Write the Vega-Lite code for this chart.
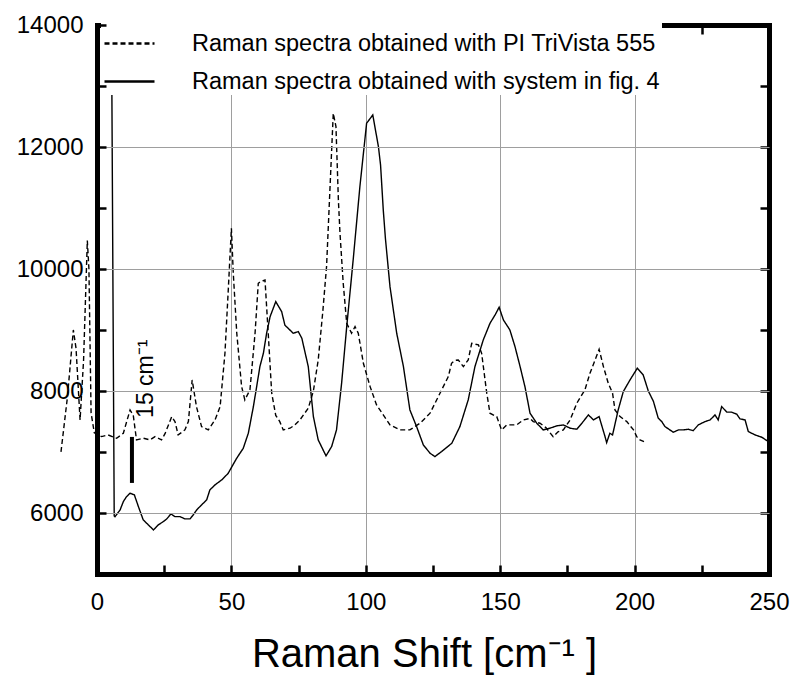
{
  "$schema": "https://vega.github.io/schema/vega-lite/v6.json",
  "width": 672,
  "height": 549,
  "autosize": {"type": "none"},
  "padding": {"left": 97, "top": 25, "right": 32, "bottom": 101},
  "background": "white",
  "config": {
    "view": {"stroke": null},
    "font": "Liberation Sans",
    "axis": {
      "domainColor": "black",
      "domainWidth": 5,
      "domainCap": "square",
      "tickColor": "black",
      "tickWidth": 2.5,
      "labelFont": "Liberation Sans",
      "labelFontSize": 24,
      "labelColor": "black",
      "gridColor": "#9e9e9e",
      "gridWidth": 1,
      "titleFont": "Liberation Sans",
      "titleColor": "black",
      "titleFontWeight": "normal"
    }
  },
  "datasets": {
    "spectra": [
      {"series": "Raman spectra obtained with PI TriVista 555", "x": -13.4, "y": 7001},
      {"series": "Raman spectra obtained with PI TriVista 555", "x": -11, "y": 7900},
      {"series": "Raman spectra obtained with PI TriVista 555", "x": -8.8, "y": 9001},
      {"series": "Raman spectra obtained with PI TriVista 555", "x": -7.8, "y": 8700},
      {"series": "Raman spectra obtained with PI TriVista 555", "x": -6.3, "y": 7526},
      {"series": "Raman spectra obtained with PI TriVista 555", "x": -5, "y": 8500},
      {"series": "Raman spectra obtained with PI TriVista 555", "x": -3.6, "y": 10465},
      {"series": "Raman spectra obtained with PI TriVista 555", "x": -3, "y": 10000},
      {"series": "Raman spectra obtained with PI TriVista 555", "x": -2.2, "y": 7640},
      {"series": "Raman spectra obtained with PI TriVista 555", "x": -1, "y": 7313},
      {"series": "Raman spectra obtained with PI TriVista 555", "x": 1.7, "y": 7252},
      {"series": "Raman spectra obtained with PI TriVista 555", "x": 4.1, "y": 7280},
      {"series": "Raman spectra obtained with PI TriVista 555", "x": 7.3, "y": 7226},
      {"series": "Raman spectra obtained with PI TriVista 555", "x": 9.8, "y": 7308},
      {"series": "Raman spectra obtained with PI TriVista 555", "x": 12.3, "y": 7690},
      {"series": "Raman spectra obtained with PI TriVista 555", "x": 13.5, "y": 7600},
      {"series": "Raman spectra obtained with PI TriVista 555", "x": 14.7, "y": 7198},
      {"series": "Raman spectra obtained with PI TriVista 555", "x": 17.2, "y": 7226},
      {"series": "Raman spectra obtained with PI TriVista 555", "x": 19.7, "y": 7198},
      {"series": "Raman spectra obtained with PI TriVista 555", "x": 21.6, "y": 7252},
      {"series": "Raman spectra obtained with PI TriVista 555", "x": 24, "y": 7198},
      {"series": "Raman spectra obtained with PI TriVista 555", "x": 25.3, "y": 7300},
      {"series": "Raman spectra obtained with PI TriVista 555", "x": 27.8, "y": 7580},
      {"series": "Raman spectra obtained with PI TriVista 555", "x": 29, "y": 7500},
      {"series": "Raman spectra obtained with PI TriVista 555", "x": 30.2, "y": 7280},
      {"series": "Raman spectra obtained with PI TriVista 555", "x": 32.7, "y": 7362},
      {"series": "Raman spectra obtained with PI TriVista 555", "x": 34, "y": 7500},
      {"series": "Raman spectra obtained with PI TriVista 555", "x": 35.4, "y": 8181},
      {"series": "Raman spectra obtained with PI TriVista 555", "x": 37, "y": 7744},
      {"series": "Raman spectra obtained with PI TriVista 555", "x": 38.9, "y": 7416},
      {"series": "Raman spectra obtained with PI TriVista 555", "x": 41.4, "y": 7362},
      {"series": "Raman spectra obtained with PI TriVista 555", "x": 43.9, "y": 7526},
      {"series": "Raman spectra obtained with PI TriVista 555", "x": 45.8, "y": 7744},
      {"series": "Raman spectra obtained with PI TriVista 555", "x": 47.6, "y": 8618},
      {"series": "Raman spectra obtained with PI TriVista 555", "x": 48.9, "y": 9711},
      {"series": "Raman spectra obtained with PI TriVista 555", "x": 50, "y": 10668},
      {"series": "Raman spectra obtained with PI TriVista 555", "x": 50.7, "y": 9930},
      {"series": "Raman spectra obtained with PI TriVista 555", "x": 52, "y": 8947},
      {"series": "Raman spectra obtained with PI TriVista 555", "x": 53.8, "y": 8072},
      {"series": "Raman spectra obtained with PI TriVista 555", "x": 55, "y": 7854},
      {"series": "Raman spectra obtained with PI TriVista 555", "x": 56.9, "y": 8018},
      {"series": "Raman spectra obtained with PI TriVista 555", "x": 58.8, "y": 8947},
      {"series": "Raman spectra obtained with PI TriVista 555", "x": 60, "y": 9766},
      {"series": "Raman spectra obtained with PI TriVista 555", "x": 61.2, "y": 9800},
      {"series": "Raman spectra obtained with PI TriVista 555", "x": 62.5, "y": 9820},
      {"series": "Raman spectra obtained with PI TriVista 555", "x": 63.7, "y": 8947},
      {"series": "Raman spectra obtained with PI TriVista 555", "x": 65, "y": 7964},
      {"series": "Raman spectra obtained with PI TriVista 555", "x": 66.5, "y": 7600},
      {"series": "Raman spectra obtained with PI TriVista 555", "x": 68, "y": 7498},
      {"series": "Raman spectra obtained with PI TriVista 555", "x": 69.3, "y": 7362},
      {"series": "Raman spectra obtained with PI TriVista 555", "x": 71.8, "y": 7390},
      {"series": "Raman spectra obtained with PI TriVista 555", "x": 73.5, "y": 7440},
      {"series": "Raman spectra obtained with PI TriVista 555", "x": 75.5, "y": 7526},
      {"series": "Raman spectra obtained with PI TriVista 555", "x": 78.6, "y": 7718},
      {"series": "Raman spectra obtained with PI TriVista 555", "x": 80.5, "y": 8000},
      {"series": "Raman spectra obtained with PI TriVista 555", "x": 82.3, "y": 8509},
      {"series": "Raman spectra obtained with PI TriVista 555", "x": 84, "y": 9300},
      {"series": "Raman spectra obtained with PI TriVista 555", "x": 85.4, "y": 10039},
      {"series": "Raman spectra obtained with PI TriVista 555", "x": 87.3, "y": 11951},
      {"series": "Raman spectra obtained with PI TriVista 555", "x": 87.9, "y": 12553},
      {"series": "Raman spectra obtained with PI TriVista 555", "x": 88.9, "y": 12333},
      {"series": "Raman spectra obtained with PI TriVista 555", "x": 89.8, "y": 11132},
      {"series": "Raman spectra obtained with PI TriVista 555", "x": 90.4, "y": 10586},
      {"series": "Raman spectra obtained with PI TriVista 555", "x": 91.6, "y": 9766},
      {"series": "Raman spectra obtained with PI TriVista 555", "x": 92.9, "y": 9110},
      {"series": "Raman spectra obtained with PI TriVista 555", "x": 94.7, "y": 8947},
      {"series": "Raman spectra obtained with PI TriVista 555", "x": 96, "y": 9055},
      {"series": "Raman spectra obtained with PI TriVista 555", "x": 97.2, "y": 8947},
      {"series": "Raman spectra obtained with PI TriVista 555", "x": 99.1, "y": 8455},
      {"series": "Raman spectra obtained with PI TriVista 555", "x": 101.6, "y": 8072},
      {"series": "Raman spectra obtained with PI TriVista 555", "x": 104, "y": 7772},
      {"series": "Raman spectra obtained with PI TriVista 555", "x": 106.5, "y": 7608},
      {"series": "Raman spectra obtained with PI TriVista 555", "x": 109, "y": 7444},
      {"series": "Raman spectra obtained with PI TriVista 555", "x": 112.7, "y": 7362},
      {"series": "Raman spectra obtained with PI TriVista 555", "x": 116.4, "y": 7362},
      {"series": "Raman spectra obtained with PI TriVista 555", "x": 120.2, "y": 7472},
      {"series": "Raman spectra obtained with PI TriVista 555", "x": 123.9, "y": 7636},
      {"series": "Raman spectra obtained with PI TriVista 555", "x": 127.6, "y": 7964},
      {"series": "Raman spectra obtained with PI TriVista 555", "x": 130.7, "y": 8236},
      {"series": "Raman spectra obtained with PI TriVista 555", "x": 131.9, "y": 8455},
      {"series": "Raman spectra obtained with PI TriVista 555", "x": 133, "y": 8500},
      {"series": "Raman spectra obtained with PI TriVista 555", "x": 134.4, "y": 8509},
      {"series": "Raman spectra obtained with PI TriVista 555", "x": 136.3, "y": 8400},
      {"series": "Raman spectra obtained with PI TriVista 555", "x": 138.1, "y": 8509},
      {"series": "Raman spectra obtained with PI TriVista 555", "x": 139.4, "y": 8782},
      {"series": "Raman spectra obtained with PI TriVista 555", "x": 141.9, "y": 8755},
      {"series": "Raman spectra obtained with PI TriVista 555", "x": 143.1, "y": 8618},
      {"series": "Raman spectra obtained with PI TriVista 555", "x": 145, "y": 7964},
      {"series": "Raman spectra obtained with PI TriVista 555", "x": 146.2, "y": 7636},
      {"series": "Raman spectra obtained with PI TriVista 555", "x": 148.7, "y": 7580},
      {"series": "Raman spectra obtained with PI TriVista 555", "x": 150.5, "y": 7362},
      {"series": "Raman spectra obtained with PI TriVista 555", "x": 152.4, "y": 7444},
      {"series": "Raman spectra obtained with PI TriVista 555", "x": 156.1, "y": 7444},
      {"series": "Raman spectra obtained with PI TriVista 555", "x": 158.6, "y": 7526},
      {"series": "Raman spectra obtained with PI TriVista 555", "x": 161.1, "y": 7550},
      {"series": "Raman spectra obtained with PI TriVista 555", "x": 162.3, "y": 7498},
      {"series": "Raman spectra obtained with PI TriVista 555", "x": 164.8, "y": 7472},
      {"series": "Raman spectra obtained with PI TriVista 555", "x": 167, "y": 7400},
      {"series": "Raman spectra obtained with PI TriVista 555", "x": 169.7, "y": 7252},
      {"series": "Raman spectra obtained with PI TriVista 555", "x": 171.5, "y": 7330},
      {"series": "Raman spectra obtained with PI TriVista 555", "x": 173.5, "y": 7362},
      {"series": "Raman spectra obtained with PI TriVista 555", "x": 176, "y": 7526},
      {"series": "Raman spectra obtained with PI TriVista 555", "x": 178.5, "y": 7799},
      {"series": "Raman spectra obtained with PI TriVista 555", "x": 181.5, "y": 8018},
      {"series": "Raman spectra obtained with PI TriVista 555", "x": 183.4, "y": 8291},
      {"series": "Raman spectra obtained with PI TriVista 555", "x": 185.3, "y": 8509},
      {"series": "Raman spectra obtained with PI TriVista 555", "x": 186.8, "y": 8684},
      {"series": "Raman spectra obtained with PI TriVista 555", "x": 188.4, "y": 8400},
      {"series": "Raman spectra obtained with PI TriVista 555", "x": 190.2, "y": 8127},
      {"series": "Raman spectra obtained with PI TriVista 555", "x": 191.8, "y": 7964},
      {"series": "Raman spectra obtained with PI TriVista 555", "x": 192.7, "y": 7690},
      {"series": "Raman spectra obtained with PI TriVista 555", "x": 194.6, "y": 7580},
      {"series": "Raman spectra obtained with PI TriVista 555", "x": 197.1, "y": 7498},
      {"series": "Raman spectra obtained with PI TriVista 555", "x": 199.6, "y": 7362},
      {"series": "Raman spectra obtained with PI TriVista 555", "x": 200.8, "y": 7252},
      {"series": "Raman spectra obtained with PI TriVista 555", "x": 202, "y": 7198},
      {"series": "Raman spectra obtained with PI TriVista 555", "x": 203.5, "y": 7171},
      {"series": "Raman spectra obtained with system in fig. 4", "x": 5.4, "y": 14000},
      {"series": "Raman spectra obtained with system in fig. 4", "x": 6.4, "y": 5953},
      {"series": "Raman spectra obtained with system in fig. 4", "x": 6.7, "y": 5940},
      {"series": "Raman spectra obtained with system in fig. 4", "x": 8.6, "y": 6051},
      {"series": "Raman spectra obtained with system in fig. 4", "x": 9.8, "y": 6187},
      {"series": "Raman spectra obtained with system in fig. 4", "x": 11, "y": 6269},
      {"series": "Raman spectra obtained with system in fig. 4", "x": 12.3, "y": 6324},
      {"series": "Raman spectra obtained with system in fig. 4", "x": 13.9, "y": 6297},
      {"series": "Raman spectra obtained with system in fig. 4", "x": 15.4, "y": 6105},
      {"series": "Raman spectra obtained with system in fig. 4", "x": 17.2, "y": 5887},
      {"series": "Raman spectra obtained with system in fig. 4", "x": 19.1, "y": 5805},
      {"series": "Raman spectra obtained with system in fig. 4", "x": 21, "y": 5723},
      {"series": "Raman spectra obtained with system in fig. 4", "x": 22.8, "y": 5805},
      {"series": "Raman spectra obtained with system in fig. 4", "x": 24.7, "y": 5860},
      {"series": "Raman spectra obtained with system in fig. 4", "x": 25.9, "y": 5900},
      {"series": "Raman spectra obtained with system in fig. 4", "x": 27.5, "y": 5985},
      {"series": "Raman spectra obtained with system in fig. 4", "x": 29, "y": 5940},
      {"series": "Raman spectra obtained with system in fig. 4", "x": 30.9, "y": 5940},
      {"series": "Raman spectra obtained with system in fig. 4", "x": 32.7, "y": 5903},
      {"series": "Raman spectra obtained with system in fig. 4", "x": 34.6, "y": 5903},
      {"series": "Raman spectra obtained with system in fig. 4", "x": 35.8, "y": 5969},
      {"series": "Raman spectra obtained with system in fig. 4", "x": 37.1, "y": 6051},
      {"series": "Raman spectra obtained with system in fig. 4", "x": 38.9, "y": 6133},
      {"series": "Raman spectra obtained with system in fig. 4", "x": 40.8, "y": 6215},
      {"series": "Raman spectra obtained with system in fig. 4", "x": 42, "y": 6379},
      {"series": "Raman spectra obtained with system in fig. 4", "x": 43.9, "y": 6461},
      {"series": "Raman spectra obtained with system in fig. 4", "x": 46.4, "y": 6543},
      {"series": "Raman spectra obtained with system in fig. 4", "x": 48.8, "y": 6650},
      {"series": "Raman spectra obtained with system in fig. 4", "x": 50.7, "y": 6800},
      {"series": "Raman spectra obtained with system in fig. 4", "x": 52, "y": 6900},
      {"series": "Raman spectra obtained with system in fig. 4", "x": 54.4, "y": 7060},
      {"series": "Raman spectra obtained with system in fig. 4", "x": 56.3, "y": 7308},
      {"series": "Raman spectra obtained with system in fig. 4", "x": 58.2, "y": 7750},
      {"series": "Raman spectra obtained with system in fig. 4", "x": 59.4, "y": 8072},
      {"series": "Raman spectra obtained with system in fig. 4", "x": 60.6, "y": 8400},
      {"series": "Raman spectra obtained with system in fig. 4", "x": 61.9, "y": 8618},
      {"series": "Raman spectra obtained with system in fig. 4", "x": 63.1, "y": 8947},
      {"series": "Raman spectra obtained with system in fig. 4", "x": 64.4, "y": 9219},
      {"series": "Raman spectra obtained with system in fig. 4", "x": 66.5, "y": 9465},
      {"series": "Raman spectra obtained with system in fig. 4", "x": 68.7, "y": 9301},
      {"series": "Raman spectra obtained with system in fig. 4", "x": 69.9, "y": 9080},
      {"series": "Raman spectra obtained with system in fig. 4", "x": 73, "y": 8947},
      {"series": "Raman spectra obtained with system in fig. 4", "x": 74.9, "y": 8973},
      {"series": "Raman spectra obtained with system in fig. 4", "x": 76.2, "y": 8865},
      {"series": "Raman spectra obtained with system in fig. 4", "x": 78.6, "y": 8400},
      {"series": "Raman spectra obtained with system in fig. 4", "x": 80.5, "y": 7580},
      {"series": "Raman spectra obtained with system in fig. 4", "x": 82.3, "y": 7198},
      {"series": "Raman spectra obtained with system in fig. 4", "x": 85.2, "y": 6936},
      {"series": "Raman spectra obtained with system in fig. 4", "x": 87.3, "y": 7090},
      {"series": "Raman spectra obtained with system in fig. 4", "x": 89.1, "y": 7362},
      {"series": "Raman spectra obtained with system in fig. 4", "x": 91, "y": 8127},
      {"series": "Raman spectra obtained with system in fig. 4", "x": 92.9, "y": 9055},
      {"series": "Raman spectra obtained with system in fig. 4", "x": 95.3, "y": 10148},
      {"series": "Raman spectra obtained with system in fig. 4", "x": 97.8, "y": 11350},
      {"series": "Raman spectra obtained with system in fig. 4", "x": 100.3, "y": 12389},
      {"series": "Raman spectra obtained with system in fig. 4", "x": 102.6, "y": 12525},
      {"series": "Raman spectra obtained with system in fig. 4", "x": 104.7, "y": 12005},
      {"series": "Raman spectra obtained with system in fig. 4", "x": 105.5, "y": 11700},
      {"series": "Raman spectra obtained with system in fig. 4", "x": 106.5, "y": 10968},
      {"series": "Raman spectra obtained with system in fig. 4", "x": 107.3, "y": 10500},
      {"series": "Raman spectra obtained with system in fig. 4", "x": 109, "y": 9711},
      {"series": "Raman spectra obtained with system in fig. 4", "x": 111.5, "y": 8947},
      {"series": "Raman spectra obtained with system in fig. 4", "x": 114, "y": 8400},
      {"series": "Raman spectra obtained with system in fig. 4", "x": 116.4, "y": 7690},
      {"series": "Raman spectra obtained with system in fig. 4", "x": 118.9, "y": 7416},
      {"series": "Raman spectra obtained with system in fig. 4", "x": 121.4, "y": 7116},
      {"series": "Raman spectra obtained with system in fig. 4", "x": 123.9, "y": 6980},
      {"series": "Raman spectra obtained with system in fig. 4", "x": 125.7, "y": 6925},
      {"series": "Raman spectra obtained with system in fig. 4", "x": 128.2, "y": 7007},
      {"series": "Raman spectra obtained with system in fig. 4", "x": 132, "y": 7144},
      {"series": "Raman spectra obtained with system in fig. 4", "x": 135, "y": 7416},
      {"series": "Raman spectra obtained with system in fig. 4", "x": 138.1, "y": 7854},
      {"series": "Raman spectra obtained with system in fig. 4", "x": 140.6, "y": 8400},
      {"series": "Raman spectra obtained with system in fig. 4", "x": 143.7, "y": 8837},
      {"series": "Raman spectra obtained with system in fig. 4", "x": 146.2, "y": 9110},
      {"series": "Raman spectra obtained with system in fig. 4", "x": 148.1, "y": 9247},
      {"series": "Raman spectra obtained with system in fig. 4", "x": 149.6, "y": 9373},
      {"series": "Raman spectra obtained with system in fig. 4", "x": 151.2, "y": 9165},
      {"series": "Raman spectra obtained with system in fig. 4", "x": 153.6, "y": 9001},
      {"series": "Raman spectra obtained with system in fig. 4", "x": 155.5, "y": 8728},
      {"series": "Raman spectra obtained with system in fig. 4", "x": 157.4, "y": 8400},
      {"series": "Raman spectra obtained with system in fig. 4", "x": 159.2, "y": 8072},
      {"series": "Raman spectra obtained with system in fig. 4", "x": 161.1, "y": 7636},
      {"series": "Raman spectra obtained with system in fig. 4", "x": 163.6, "y": 7472},
      {"series": "Raman spectra obtained with system in fig. 4", "x": 166, "y": 7362},
      {"series": "Raman spectra obtained with system in fig. 4", "x": 168.5, "y": 7390},
      {"series": "Raman spectra obtained with system in fig. 4", "x": 171, "y": 7428},
      {"series": "Raman spectra obtained with system in fig. 4", "x": 173.5, "y": 7444},
      {"series": "Raman spectra obtained with system in fig. 4", "x": 176, "y": 7390},
      {"series": "Raman spectra obtained with system in fig. 4", "x": 178.5, "y": 7373},
      {"series": "Raman spectra obtained with system in fig. 4", "x": 180.4, "y": 7472},
      {"series": "Raman spectra obtained with system in fig. 4", "x": 182.8, "y": 7608},
      {"series": "Raman spectra obtained with system in fig. 4", "x": 184.7, "y": 7526},
      {"series": "Raman spectra obtained with system in fig. 4", "x": 186.8, "y": 7580},
      {"series": "Raman spectra obtained with system in fig. 4", "x": 189, "y": 7252},
      {"series": "Raman spectra obtained with system in fig. 4", "x": 189.6, "y": 7154},
      {"series": "Raman spectra obtained with system in fig. 4", "x": 190.8, "y": 7308},
      {"series": "Raman spectra obtained with system in fig. 4", "x": 191.8, "y": 7280},
      {"series": "Raman spectra obtained with system in fig. 4", "x": 193.9, "y": 7690},
      {"series": "Raman spectra obtained with system in fig. 4", "x": 195.8, "y": 7991},
      {"series": "Raman spectra obtained with system in fig. 4", "x": 198.3, "y": 8182},
      {"series": "Raman spectra obtained with system in fig. 4", "x": 201, "y": 8373},
      {"series": "Raman spectra obtained with system in fig. 4", "x": 203.2, "y": 8263},
      {"series": "Raman spectra obtained with system in fig. 4", "x": 205.1, "y": 8000},
      {"series": "Raman spectra obtained with system in fig. 4", "x": 207, "y": 7830},
      {"series": "Raman spectra obtained with system in fig. 4", "x": 208.8, "y": 7554},
      {"series": "Raman spectra obtained with system in fig. 4", "x": 210.1, "y": 7499},
      {"series": "Raman spectra obtained with system in fig. 4", "x": 211.3, "y": 7417},
      {"series": "Raman spectra obtained with system in fig. 4", "x": 214.4, "y": 7324},
      {"series": "Raman spectra obtained with system in fig. 4", "x": 216.3, "y": 7362},
      {"series": "Raman spectra obtained with system in fig. 4", "x": 218.1, "y": 7362},
      {"series": "Raman spectra obtained with system in fig. 4", "x": 220, "y": 7373},
      {"series": "Raman spectra obtained with system in fig. 4", "x": 221.8, "y": 7350},
      {"series": "Raman spectra obtained with system in fig. 4", "x": 223.7, "y": 7444},
      {"series": "Raman spectra obtained with system in fig. 4", "x": 226.2, "y": 7499},
      {"series": "Raman spectra obtained with system in fig. 4", "x": 228.1, "y": 7526},
      {"series": "Raman spectra obtained with system in fig. 4", "x": 229.9, "y": 7608},
      {"series": "Raman spectra obtained with system in fig. 4", "x": 231.1, "y": 7526},
      {"series": "Raman spectra obtained with system in fig. 4", "x": 232.4, "y": 7745},
      {"series": "Raman spectra obtained with system in fig. 4", "x": 234.3, "y": 7653},
      {"series": "Raman spectra obtained with system in fig. 4", "x": 236.1, "y": 7653},
      {"series": "Raman spectra obtained with system in fig. 4", "x": 238, "y": 7620},
      {"series": "Raman spectra obtained with system in fig. 4", "x": 239.2, "y": 7543},
      {"series": "Raman spectra obtained with system in fig. 4", "x": 241.1, "y": 7526},
      {"series": "Raman spectra obtained with system in fig. 4", "x": 242.3, "y": 7335},
      {"series": "Raman spectra obtained with system in fig. 4", "x": 244.8, "y": 7280},
      {"series": "Raman spectra obtained with system in fig. 4", "x": 247.3, "y": 7242},
      {"series": "Raman spectra obtained with system in fig. 4", "x": 249.8, "y": 7171}
    ],
    "marker": [
      {"x": 13, "y": 6493, "y2": 7247}
    ],
    "note": [
      {"x": 20.8, "y": 7559, "label": "15 cm⁻¹"}
    ]
  },
  "layer": [
    {
      "data": {"name": "spectra"},
      "mark": {"type": "line", "color": "black", "strokeWidth": 1.4},
      "encoding": {
        "x": {
          "field": "x", "type": "quantitative",
          "scale": {"domain": [0, 250], "nice": false, "zero": false},
          "axis": {
            "orient": "bottom",
            "values": [0, 25, 50, 75, 100, 125, 150, 175, 200, 225, 250],
            "labelExpr": "datum.value % 50 === 0 ? datum.label : ''",
            "grid": true,
            "gridOpacity": {"condition": {"test": "datum.value % 50 === 0 && datum.value > 0 && datum.value < 250", "value": 1}, "value": 0},
            "domainWidth": 5,
            "tickSize": -9,
            "labelPadding": 25,
            "labelFlush": false,
            "title": "Raman Shift [cm⁻¹ ]",
            "titleFontSize": 40,
            "titlePadding": 20,
            "titleX": 327,
            "titleAlign": "center",
            "zindex": 0,
            "encode": {
              "ticks": {"y2": {"condition": {"test": "datum.value % 50 === 0", "value": -9}, "value": -4.5}}
            }
          }
        },
        "y": {
          "field": "y", "type": "quantitative",
          "scale": {"domain": [5000, 14000], "nice": false, "zero": false},
          "axis": {
            "orient": "left",
            "values": [6000, 7000, 8000, 9000, 10000, 11000, 12000, 13000, 14000],
            "labelExpr": "datum.value % 2000 === 0 ? datum.label : ''",
            "format": "d",
            "grid": true,
            "gridOpacity": {"condition": {"test": "datum.value % 2000 === 0 && datum.value < 14000", "value": 1}, "value": 0},
            "domainWidth": 5,
            "tickSize": -9,
            "labelPadding": 23,
            "labelFlush": false,
            "title": null,
            "zindex": 1,
            "encode": {
              "ticks": {"x2": {"condition": {"test": "datum.value % 2000 === 0", "value": 9}, "value": 4.5}}
            }
          }
        },
        "strokeDash": {
          "field": "series", "type": "nominal",
          "scale": {
            "domain": ["Raman spectra obtained with PI TriVista 555", "Raman spectra obtained with system in fig. 4"],
            "range": [[5, 3], [1, 0]]
          },
          "legend": {
            "orient": "none",
            "legendX": 4,
            "legendY": -10,
            "title": null,
            "fillColor": "white",
            "padding": 2,
            "symbolType": "stroke",
            "symbolSize": 2500,
            "symbolStrokeWidth": 2.5,
            "symbolStrokeColor": "black",
            "labelFont": "Liberation Sans",
            "labelFontSize": 23.5,
            "labelColor": "black",
            "labelOffset": 36,
            "labelLimit": 700,
            "rowPadding": -6
          }
        }
      }
    },
    {
      "data": {"name": "marker"},
      "mark": {"type": "rule", "color": "black", "strokeWidth": 4},
      "encoding": {
        "x": {
          "field": "x", "type": "quantitative",
          "axis": {
            "orient": "top",
            "values": [0, 25, 50, 75, 100, 125, 150, 175, 200, 225, 250],
            "labels": false,
            "grid": false,
            "domainWidth": 5,
            "tickSize": -9,
            "title": null,
            "zindex": 0,
            "encode": {
              "ticks": {"y2": {"condition": {"test": "datum.value % 50 === 0", "value": 9}, "value": 4.5}}
            }
          }
        },
        "y": {
          "field": "y", "type": "quantitative",
          "axis": {
            "orient": "right",
            "values": [6000, 7000, 8000, 9000, 10000, 11000, 12000, 13000, 14000],
            "labels": false,
            "grid": false,
            "domainWidth": 5,
            "tickSize": -9,
            "title": null,
            "zindex": 0,
            "encode": {
              "ticks": {"x2": {"condition": {"test": "datum.value % 2000 === 0", "value": -9}, "value": -4.5}}
            }
          }
        },
        "y2": {"field": "y2"}
      }
    },
    {
      "data": {"name": "note"},
      "mark": {"type": "text", "angle": 270, "align": "left", "baseline": "alphabetic", "font": "Liberation Sans", "fontSize": 23, "color": "black"},
      "encoding": {
        "x": {"field": "x", "type": "quantitative", "axis": null},
        "y": {"field": "y", "type": "quantitative", "axis": null},
        "text": {"field": "label"}
      }
    }
  ],
  "resolve": {"axis": {"x": "independent", "y": "independent"}}
}
